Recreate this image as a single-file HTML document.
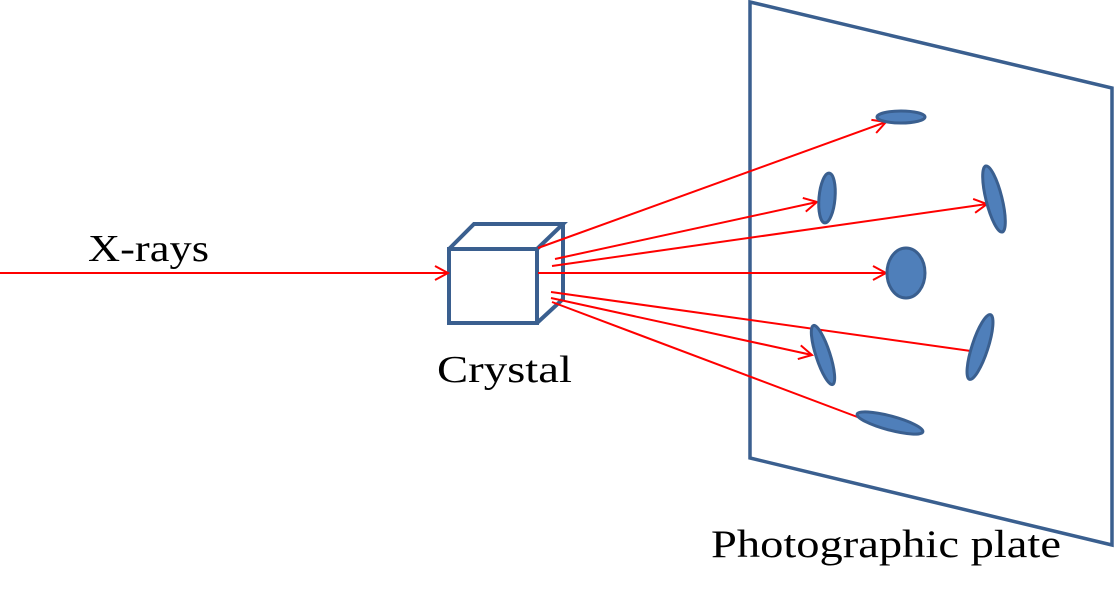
<!DOCTYPE html>
<html><head><meta charset="utf-8"><style>
html,body{margin:0;padding:0;background:#fff;}
svg{display:block;}
text{font-family:"Liberation Serif",serif;fill:#000;}
</style></head><body>
<svg width="1114" height="599" viewBox="0 0 1114 599">
<defs>
<marker id="ah" markerWidth="20" markerHeight="20" refX="14" refY="8" orient="auto" markerUnits="userSpaceOnUse">
<path d="M1,1 L14,8 L1,15" fill="none" stroke="#ff0000" stroke-width="2"/>
</marker>
</defs>
<polygon points="750,2 1112,88 1112,545 750,458" fill="#fff" stroke="#3a5f8f" stroke-width="3.5"/>
<g fill="none" stroke="#3a5f8f" stroke-width="4">
<rect x="449" y="249" width="88" height="74"/>
<polyline points="449,249 474,224 563,224 537,249"/>
<polyline points="563,224 563,299 537,323"/>
</g>
<line x1="0" y1="273" x2="448" y2="273" stroke="#ff0000" stroke-width="2" marker-end="url(#ah)"/>
<g stroke="#ff0000" stroke-width="2" fill="none">
<line x1="538" y1="248" x2="886" y2="122" marker-end="url(#ah)"/>
<line x1="555" y1="259" x2="817" y2="202" marker-end="url(#ah)"/>
<line x1="552" y1="266" x2="987" y2="204" marker-end="url(#ah)"/>
<line x1="538" y1="273" x2="886" y2="273" marker-end="url(#ah)"/>
<line x1="551" y1="292" x2="985" y2="353"/>
<line x1="551" y1="298" x2="812" y2="355" marker-end="url(#ah)"/>
<line x1="552" y1="302" x2="876" y2="424"/>
</g>
<g fill="#4f7fba" stroke="#3a5f8f" stroke-width="3">
<ellipse cx="901" cy="117" rx="24" ry="6"/>
<ellipse cx="827" cy="198" rx="8" ry="25" transform="rotate(5 827 198)"/>
<ellipse cx="994" cy="199" rx="8" ry="34" transform="rotate(-14 994 199)"/>
<ellipse cx="906" cy="273" rx="19" ry="25"/>
<ellipse cx="980" cy="347" rx="8" ry="34" transform="rotate(18 980 347)"/>
<ellipse cx="823" cy="355" rx="7" ry="31" transform="rotate(-18 823 355)"/>
<ellipse cx="890" cy="423" rx="34" ry="7" transform="rotate(15 890 423)"/>
</g>
<text x="88" y="261" font-size="38" textLength="121" lengthAdjust="spacingAndGlyphs">X-rays</text>
<text x="437" y="382" font-size="38" textLength="135" lengthAdjust="spacingAndGlyphs">Crystal</text>
<text x="711" y="557" font-size="39" textLength="350" lengthAdjust="spacingAndGlyphs">Photographic plate</text>
</svg>
</body></html>
